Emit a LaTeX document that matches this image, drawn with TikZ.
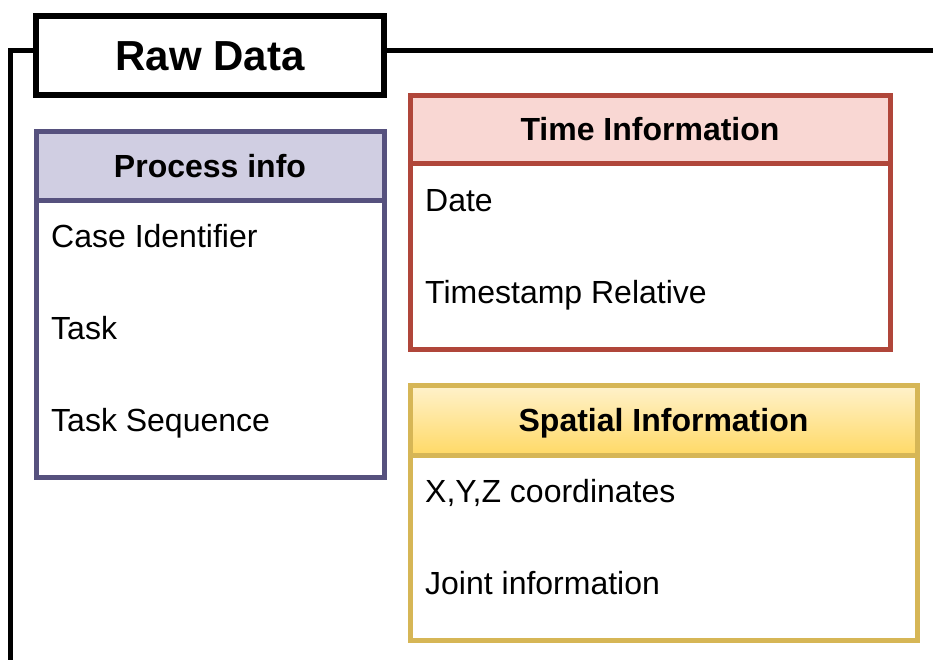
\documentclass[tikz,border=0pt]{standalone}
\usepackage{fontspec}
\setmainfont{Liberation Sans}
\usepackage{xcolor}
\usetikzlibrary{positioning}

\definecolor{procline}{HTML}{56517E}
\definecolor{procfill}{HTML}{D0CEE2}
\definecolor{timeline}{HTML}{B0463A}
\definecolor{timefill}{HTML}{F9D7D3}
\definecolor{spaceline}{HTML}{D6B656}
\definecolor{spacetop}{HTML}{FFF2CC}
\definecolor{spacebot}{HTML}{FFD966}

\begin{document}
\begin{tikzpicture}[x=1pt, y=-1pt,
	head/.style={draw, line width=5pt, inner sep=0pt, text height=23pt, text depth=0pt,
		font=\bfseries\fontsize{32}{38}\selectfont},
	body/.style={draw, line width=5pt, fill=white, inner sep=0pt},
	entry/.style={anchor=base west, inner sep=0pt, font=\fontsize{32}{38}\selectfont},
	frame/.style={draw, line width=5pt}]
	\useasboundingbox (0,0) rectangle (933,659);

	%Rammen og tittelen
	\node[head, line width=5.5pt, minimum width=348pt, minimum height=79pt,
		text height=30pt, font=\bfseries\fontsize{42}{50}\selectfont] (raw) at (210,55.5) {Raw Data};
	\coordinate (bl) at (10,665);
	\coordinate (tl) at (10,50);
	\coordinate (tr) at (940,50);
	\draw[frame] (bl) -- (tl) -- (tl -| raw.west);
	\draw[frame] (raw.east |- tr) -- (tr);

	%Process info
	\node[head, draw=procline, fill=procfill, minimum width=348pt, minimum height=69pt] (proc) at (210,165.5) {Process info};
	\node[body, draw=procline, minimum width=348pt, minimum height=277pt] (procbody) at (210,338.5) {};
	\node[entry] (case) at (51,247) {Case Identifier};
	\node[entry] (task) at (51,339) {Task};
	\node[entry] (seq) at (51,431) {Task Sequence};

	%Time information
	\node[head, draw=timeline, fill=timefill, minimum width=480pt, minimum height=68pt] (time) at (650,129) {Time Information};
	\node[body, draw=timeline, minimum width=480pt, minimum height=186pt] (timebody) at (650,256) {};
	\node[entry] (date) at (425,211) {Date};
	\node[entry] (stamp) at (425,303) {Timestamp Relative};

	%Spatial information
	\node[head, draw=spaceline, top color=spacetop, bottom color=spacebot, minimum width=507pt, minimum height=70pt] (space) at (663.5,420) {Spatial Information};
	\node[body, draw=spaceline, minimum width=507pt, minimum height=185pt] (spacebody) at (663.5,547.5) {};
	\node[entry] (xyz) at (425,502) {X,Y,Z coordinates};
	\node[entry] (joint) at (425,594) {Joint information};
\end{tikzpicture}
\end{document}
